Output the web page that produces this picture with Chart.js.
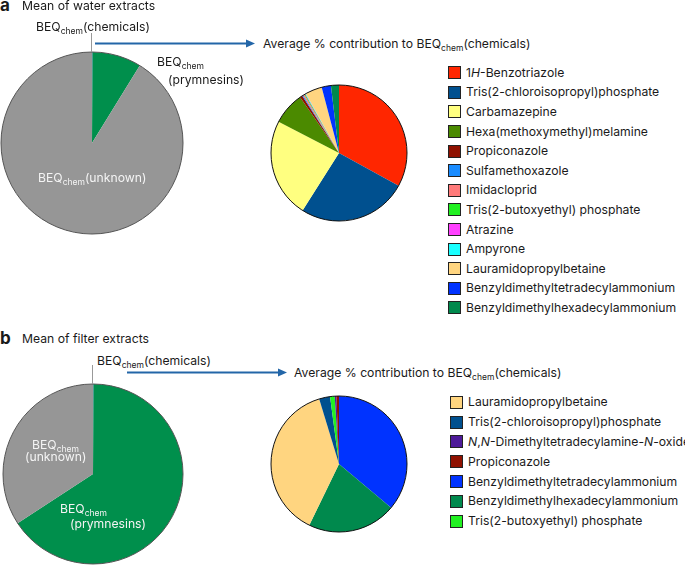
<!DOCTYPE html>
<html>
<head>
<meta charset="utf-8">
<script src="https://cdn.jsdelivr.net/npm/chart.js@4.4.1/dist/chart.umd.min.js"></script>
<style>
body { margin: 0; width: 685px; height: 567px; background: #fff; position: relative; overflow: hidden;
       font-family: Inter, "Noto Sans", sans-serif; color: #1a1a1a; }
.abs { position: absolute; white-space: nowrap; font-size: 12.2px; line-height: 16px; z-index: 2; }
.abs sub { font-size: 8.5px; vertical-align: -3px; line-height: 0; }
.pl { font-weight: 700; font-size: 17px; }
.w { color: #f4f4f4; }
canvas { position: absolute; z-index: 1; }
.leg { position: absolute; }
.leg div { position: absolute; white-space: nowrap; font-size: 12.2px; line-height: 16px; }
.leg span.sw { position: absolute; width: 11px; height: 11px; border: 1px solid #222; }
</style>
</head>
<body>

<canvas id="bigA" width="184" height="184" style="left:0;top:51px"></canvas>
<canvas id="smallA" width="138" height="138" style="left:270px;top:84px"></canvas>
<canvas id="bigB" width="182" height="182" style="left:2px;top:383px"></canvas>
<canvas id="smallB" width="138" height="138" style="left:270px;top:395px"></canvas>

<div class="abs pl" style="left:0;top:-3px">a</div>
<div class="abs" style="left:22px;top:-2px">Mean of water extracts</div>
<div class="abs" style="left:36px;top:19px">BEQ<sub>chem</sub>(chemicals)</div>
<div class="abs" style="left:157px;top:54px">BEQ<sub>chem</sub></div>
<div class="abs" style="left:168px;top:72px">(prymnesins)</div>
<div class="abs w" style="left:38px;top:170px">BEQ<sub>chem</sub>(unknown)</div>
<div class="abs" style="left:263px;top:36px">Average % contribution to BEQ<sub>chem</sub>(chemicals)</div>

<div class="abs pl" style="left:0;top:330px">b</div>
<div class="abs" style="left:22px;top:331px">Mean of filter extracts</div>
<div class="abs" style="left:97px;top:353px">BEQ<sub>chem</sub>(chemicals)</div>
<div class="abs" style="left:294px;top:365px">Average % contribution to BEQ<sub>chem</sub>(chemicals)</div>

<div class="abs w" style="left:32px;top:437px">BEQ<sub>chem</sub></div>
<div class="abs w" style="left:25px;top:449px">(unknown)</div>
<div class="abs w" style="left:60px;top:501px">BEQ<sub>chem</sub></div>
<div class="abs w" style="left:70px;top:516px">(prymnesins)</div>

<svg width="685" height="567" style="position:absolute;left:0;top:0;z-index:2">
  <line x1="91.5" y1="33" x2="91.5" y2="52" stroke="#999" stroke-width="1"/>
  <line x1="95" y1="43.5" x2="248" y2="43.5" stroke="#2366a8" stroke-width="2"/>
  <polygon points="246,39.5 255,43.5 246,47.5" fill="#2366a8"/>
  <line x1="92.5" y1="365" x2="92.5" y2="384" stroke="#999" stroke-width="1"/>
  <line x1="127" y1="372.5" x2="280" y2="372.5" stroke="#2366a8" stroke-width="2"/>
  <polygon points="278,368.5 287,372.5 278,376.5" fill="#2366a8"/>
</svg>

<div class="leg" id="legA"></div>
<div class="leg" id="legB"></div>

<script>
// big pies: share of BEQchem
const bigLabels = ['BEQchem(chemicals)', 'BEQchem(prymnesins)', 'BEQchem(unknown)'];
const bigColors = ['#2366a8', '#008f4c', '#969696'];
const waterShares = [0.1, 8.7, 91.2];
const filterShares = [0.1, 65.7, 34.2];

// small pie a: water extracts, % contribution
const waterChems = ['1<i>H</i>-Benzotriazole', 'Tris(2-chloroisopropyl)phosphate', 'Carbamazepine',
  'Hexa(methoxymethyl)melamine', 'Propiconazole', 'Sulfamethoxazole', 'Imidacloprid',
  'Tris(2-butoxyethyl) phosphate', 'Atrazine', 'Ampyrone', 'Lauramidopropylbetaine',
  'Benzyldimethyltetradecylammonium', 'Benzyldimethylhexadecylammonium'];
const waterColors = ['#ff2600', '#00508f', '#ffff80', '#4b8a00', '#8f1100', '#1a8cff', '#ff7a7a',
  '#21f021', '#ff40ff', '#1affff', '#ffd580', '#0033ff', '#00894d'];
const waterPct = [33.0, 26.0, 23.6, 7.7, 0.6, 0.25, 0.35, 0.2, 0.1, 0.1, 4.0, 2.2, 1.9];

// small pie b: filter extracts (clockwise from top)
const filterChems = ['Benzyldimethyltetradecylammonium', 'Benzyldimethylhexadecylammonium',
  'Lauramidopropylbetaine', 'Tris(2-chloroisopropyl)phosphate', 'Tris(2-butoxyethyl) phosphate',
  '<i>N</i>,<i>N</i>-Dimethyltetradecylamine-<i>N</i>-oxide', 'Propiconazole'];
const filterColors = ['#0033ff', '#00894d', '#ffd580', '#00508f', '#21f021', '#4d1a99', '#8f1100'];
const filterPct = [36.1, 21.1, 38.1, 2.6, 1.1, 0.4, 0.6];
const filterLegendOrder = [2, 3, 5, 6, 0, 1, 4];

const outline = {
  id: 'outline',
  afterDatasetsDraw(chart, args, opts) {
    const arc = chart.getDatasetMeta(0).data[0];
    const c = chart.ctx;
    c.save();
    c.beginPath();
    c.arc(arc.x, arc.y, arc.outerRadius, 0, 2 * Math.PI);
    c.lineWidth = opts.width;
    c.strokeStyle = opts.color;
    c.stroke();
    c.restore();
  }
};

function stripTags(s) { return s.replace(/<[^>]+>/g, ''); }

function makePie(id, labels, values, colors, lineColor) {
  return new Chart(document.getElementById(id), {
    type: 'pie',
    data: {
      labels: labels.map(stripTags),
      datasets: [{ data: values, backgroundColor: colors, borderWidth: 0 }]
    },
    options: {
      responsive: false,
      animation: false,
      events: [],
      layout: { padding: 1 },
      plugins: {
        legend: { display: false },
        tooltip: { enabled: false },
        outline: { color: lineColor, width: 1 }
      }
    },
    plugins: [outline]
  });
}

makePie('bigA', bigLabels, waterShares, bigColors, '#555');
makePie('bigB', bigLabels, filterShares, bigColors, '#555');
makePie('smallA', waterChems, waterPct, waterColors, '#111');
makePie('smallB', filterChems, filterPct, filterColors, '#111');

function makeLegend(id, names, colors, order, swX, txtX, y0, step) {
  const el = document.getElementById(id);
  order.forEach((i, k) => {
    const yc = y0 + k * step;
    const sw = document.createElement('span');
    sw.className = 'sw';
    sw.style.left = swX + 'px';
    sw.style.top = (yc - 6.5) + 'px';
    sw.style.background = colors[i];
    el.appendChild(sw);
    const t = document.createElement('div');
    t.innerHTML = names[i];
    t.style.left = txtX + 'px';
    t.style.top = (yc - 8) + 'px';
    el.appendChild(t);
  });
}

makeLegend('legA', waterChems, waterColors, waterChems.map((_, i) => i), 448, 466, 72.7, 19.6);
makeLegend('legB', filterChems, filterColors, filterLegendOrder, 450, 468, 402.3, 19.8);
</script>
</body>
</html>
